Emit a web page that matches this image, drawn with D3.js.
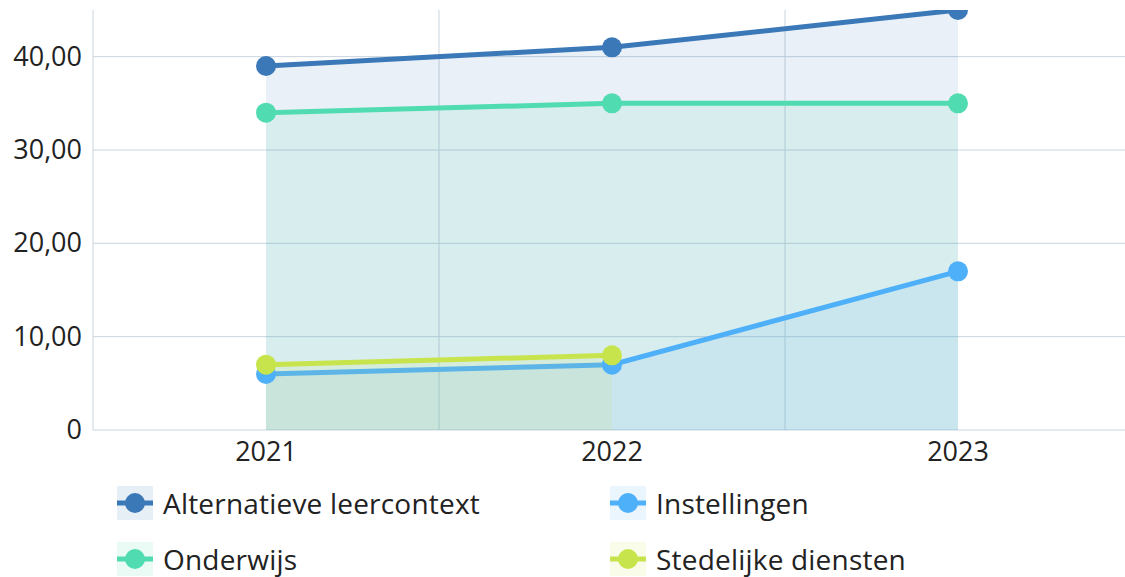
<!DOCTYPE html>
<html><head><meta charset="utf-8">
<script src="https://cdn.jsdelivr.net/npm/d3@7"></script>
<style>body{margin:0;background:#fff;}svg{display:block;font-family:"Open Sans","Noto Sans",sans-serif;}</style>
</head><body>
<svg id="c" width="1125" height="577"></svg>
<script>
const categories = ["2021","2022","2023"];
const seriesNames = ["Alternatieve leercontext","Instellingen","Onderwijs","Stedelijke diensten"];
const alternatieve = [39, 41, 45];
const instellingen = [6, 7, 17];
const onderwijs = [34, 35, 35];
const stedelijke = [7, 8, null];
const yTicks = [0, 10, 20, 30, 40];
const colors = {"Alternatieve leercontext":"#3b78b8","Instellingen":"#4fb0fa","Onderwijs":"#50dcb0","Stedelijke diensten":"#c8e44c"};

const drawOrder = [
  {name:"Alternatieve leercontext", values: alternatieve},
  {name:"Onderwijs", values: onderwijs},
  {name:"Instellingen", values: instellingen},
  {name:"Stedelijke diensten", values: stedelijke}
];

const svg = d3.select("#c");
const mL = 93, mT = 10, mB = 430, mR = 1131;
const FS = 27;
const x = d3.scaleBand().domain(categories).range([mL, mR]).padding(0);
const y = d3.scaleLinear().domain([0, 45]).range([mB, mT]);
const cx = d => x(d) + x.bandwidth()/2;

svg.append("defs").append("clipPath").attr("id","clip")
  .append("rect").attr("x", mL).attr("y", mT).attr("width", 1125-mL).attr("height", mB-mT);

const grid = svg.append("g");
grid.selectAll("line.h").data(yTicks.slice(1)).join("line")
  .attr("x1", mL).attr("x2", 1125).attr("y1", d=>y(d)).attr("y2", d=>y(d))
  .attr("stroke","#c9d4de").attr("stroke-width",1);
grid.selectAll("line.v").data(categories.slice(1)).join("line")
  .attr("x1", d=>x(d)).attr("x2", d=>x(d)).attr("y1", mT).attr("y2", mB)
  .attr("stroke","#c9d4de").attr("stroke-width",1);
grid.append("line").attr("x1",mL).attr("x2",mL).attr("y1",mT).attr("y2",mB).attr("stroke","#c9d4de");
grid.append("line").attr("x1",mL).attr("x2",1125).attr("y1",mB).attr("y2",mB).attr("stroke","#c9d4de");

const fmt = v => v === 0 ? "0" : d3.format(".2f")(v).replace(".", ",");
const yAxis = d3.axisLeft(y).tickValues(yTicks).tickFormat(fmt).tickSize(0).tickPadding(11);
const ya = svg.append("g").attr("transform",`translate(${mL},0)`).call(yAxis);
ya.select(".domain").remove();
ya.selectAll("text").attr("font-size",FS).attr("fill","#222").attr("font-family","'Open Sans',sans-serif");

const xAxis = d3.axisBottom(x).tickSize(0).tickPadding(12);
const xa = svg.append("g").attr("transform",`translate(0,${mB})`).call(xAxis);
xa.select(".domain").remove();
xa.selectAll("text").attr("font-size",FS).attr("fill","#222").attr("font-family","'Open Sans',sans-serif");

const plot = svg.append("g").attr("clip-path","url(#clip)");
drawOrder.forEach(s => {
  const pts = categories.map((c,i)=>({c, v:s.values[i]})).filter(p=>p.v!=null);
  const area = d3.area().x(p=>cx(p.c)).y0(y(0)).y1(p=>y(p.v));
  const line = d3.line().x(p=>cx(p.c)).y(p=>y(p.v));
  plot.append("path").attr("d", area(pts)).attr("fill", colors[s.name]).attr("fill-opacity",0.11);
  plot.append("path").attr("d", line(pts)).attr("fill","none").attr("stroke",colors[s.name]).attr("stroke-width",5);
});
drawOrder.forEach(s => {
  const pts = categories.map((c,i)=>({c, v:s.values[i]})).filter(p=>p.v!=null);
  plot.selectAll(null).data(pts).join("circle")
    .attr("cx", p=>cx(p.c)).attr("cy", p=>y(p.v)).attr("r",10).attr("fill",colors[s.name]);
});

const legendPos = [[117,503],[610,503],[117,559],[610,559]];
seriesNames.forEach((n,i)=>{
  const [lx,ly] = legendPos[i];
  const g = svg.append("g").attr("transform",`translate(${lx},${ly})`);
  g.append("rect").attr("x",0).attr("y",-17).attr("width",36).attr("height",34).attr("fill",colors[n]).attr("fill-opacity",0.12);
  g.append("line").attr("x1",0).attr("x2",36).attr("y1",0).attr("y2",0).attr("stroke",colors[n]).attr("stroke-width",5);
  g.append("circle").attr("cx",18).attr("cy",0).attr("r",10).attr("fill",colors[n]);
  g.append("text").attr("x",46).attr("y",1).attr("dy","0.35em").attr("font-size",28).attr("letter-spacing","0.2px").attr("fill","#222").text(n);
});
</script>
</body></html>
